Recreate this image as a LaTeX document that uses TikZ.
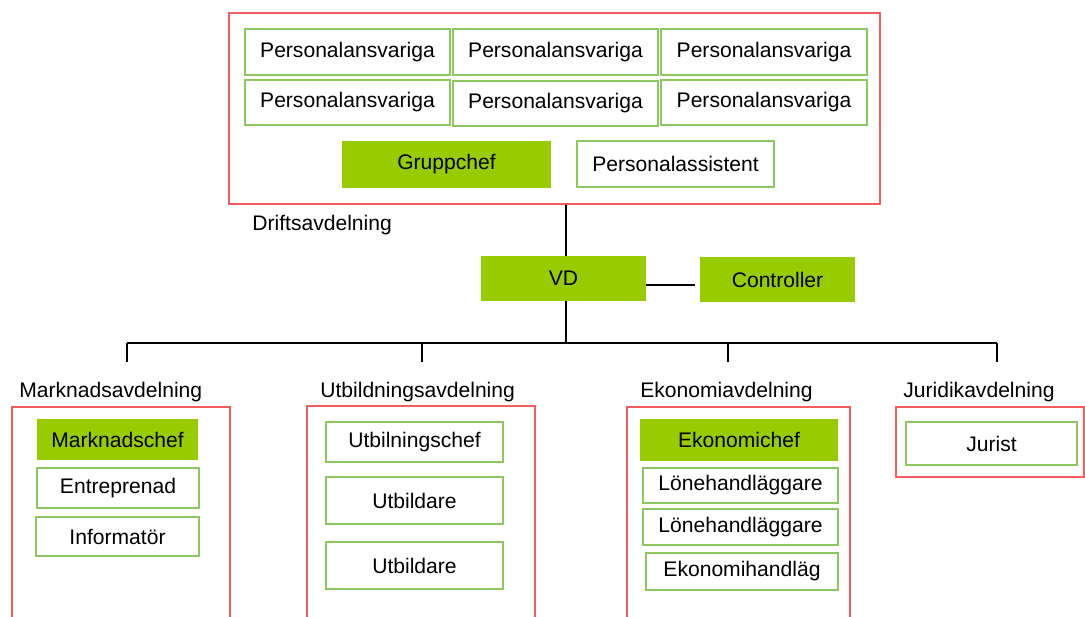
\documentclass[tikz,border=0pt]{standalone}
\usepackage{fontspec}
\setmainfont{Liberation Sans}
\usetikzlibrary{positioning}
\tikzstyle{chart} = [x = 0.02cm, y = -0.02cm]
\definecolor{deptColor}{RGB}{245,92,92}
\definecolor{roleColor}{RGB}{140,200,95}
\definecolor{chiefColor}{RGB}{153,204,0}
\tikzstyle{boxText} = [font=\fontsize{12}{14}\selectfont, inner sep=0pt, align=center]
\tikzstyle{roleStyle} = [boxText, draw=roleColor, line width=1pt, fill=white]
\tikzstyle{chiefStyle} = [boxText, fill=chiefColor]
\tikzstyle{deptStyle} = [draw=deptColor, line width=.8pt, inner sep=0pt]
\tikzstyle{deptLabel} = [boxText, anchor=west]
\tikzstyle{orgLine} = [line width=.8pt]
\newcommand{\chartBox}[7]{\node [#2, minimum width = {(#5 - #3) * 0.02cm}, minimum height = {(#6 - #4) * 0.02cm}] (#1) at ({(#3 + #5) / 2}, {(#4 + #6) / 2}) {#7};}

\begin{document}
\begin{tikzpicture}[chart]
          \useasboundingbox (0,0) rectangle (1085,616);
          \chartBox{drift}{deptStyle}{229}{13}{880}{204}{}
          \chartBox{persA}{roleStyle}{245}{29}{450}{75}{Personalansvariga}
          \chartBox{persB}{roleStyle}{453}{29}{658}{75}{Personalansvariga}
          \chartBox{persC}{roleStyle}{661}{29}{867}{75}{Personalansvariga}
          \chartBox{persD}{roleStyle}{245}{80}{450}{125}{Personalansvariga}
          \chartBox{persE}{roleStyle}{453}{81}{658}{126}{Personalansvariga}
          \chartBox{persF}{roleStyle}{661}{80}{867}{125}{Personalansvariga}
          \chartBox{gruppchef}{chiefStyle}{342}{141}{551}{188}{Gruppchef}
          \chartBox{assistent}{roleStyle}{577}{141}{774}{187}{Personalassistent}
          \node [deptLabel] (driftLabel) at (252, 225) {Driftsavdelning};

          \chartBox{vd}{chiefStyle}{481}{256}{646}{301}{VD}
          \chartBox{controller}{chiefStyle}{700}{257}{855}{302}{Controller}
          \coordinate (ctrlLink) at (695, 285);
          \coordinate (busTop) at (566, 343);
          \draw [orgLine] (drift.south -| busTop) -- (vd.north -| busTop);
          \draw [orgLine] (vd.east |- ctrlLink) -- (ctrlLink);
          \draw [orgLine] (vd.south -| busTop) -- (busTop);
          \foreach \name/\dropX in {marknad/127, utbildning/422, ekonomi/728, juridik/997} {
            \coordinate (\name Drop) at (\dropX, 362);
            \draw [orgLine] (\name Drop |- busTop) -- (\name Drop);
          }
          \draw [orgLine] (marknadDrop |- busTop) -- (juridikDrop |- busTop);

          \node [deptLabel] (marknadLabel) at (19, 392) {Marknadsavdelning};
          \chartBox{marknad}{deptStyle}{12}{407}{230}{650}{}
          \chartBox{marknadschef}{chiefStyle}{37}{419}{198}{460}{Marknadschef}
          \chartBox{entreprenad}{roleStyle}{37}{468}{199}{508}{Entreprenad}
          \chartBox{informator}{roleStyle}{36}{517}{199}{556}{Informatör}

          \node [deptLabel] (utbildningLabel) at (320, 392) {Utbildningsavdelning};
          \chartBox{utbildning}{deptStyle}{307}{406}{535}{650}{}
          \chartBox{utbchef}{roleStyle}{326}{422}{503}{462}{Utbilningschef}
          \chartBox{utbildareA}{roleStyle}{326}{477}{503}{524}{Utbildare}
          \chartBox{utbildareB}{roleStyle}{326}{542}{503}{589}{Utbildare}

          \node [deptLabel] (ekonomiLabel) at (640, 392) {Ekonomiavdelning};
          \chartBox{ekonomi}{deptStyle}{627}{407}{850}{650}{}
          \chartBox{ekonomichef}{chiefStyle}{640}{419}{838}{461}{Ekonomichef}
          \chartBox{loneA}{roleStyle}{643}{468}{838}{503}{Lönehandläggare}
          \chartBox{loneB}{roleStyle}{643}{509}{838}{545}{Lönehandläggare}
          \chartBox{ekhandl}{roleStyle}{646}{553}{838}{590}{Ekonomihandläg}

          \node [deptLabel] (juridikLabel) at (903, 392) {Juridikavdelning};
          \chartBox{juridik}{deptStyle}{896}{407}{1084}{477}{}
          \chartBox{jurist}{roleStyle}{906}{422}{1077}{465}{Jurist}
        \end{tikzpicture}
\end{document}
